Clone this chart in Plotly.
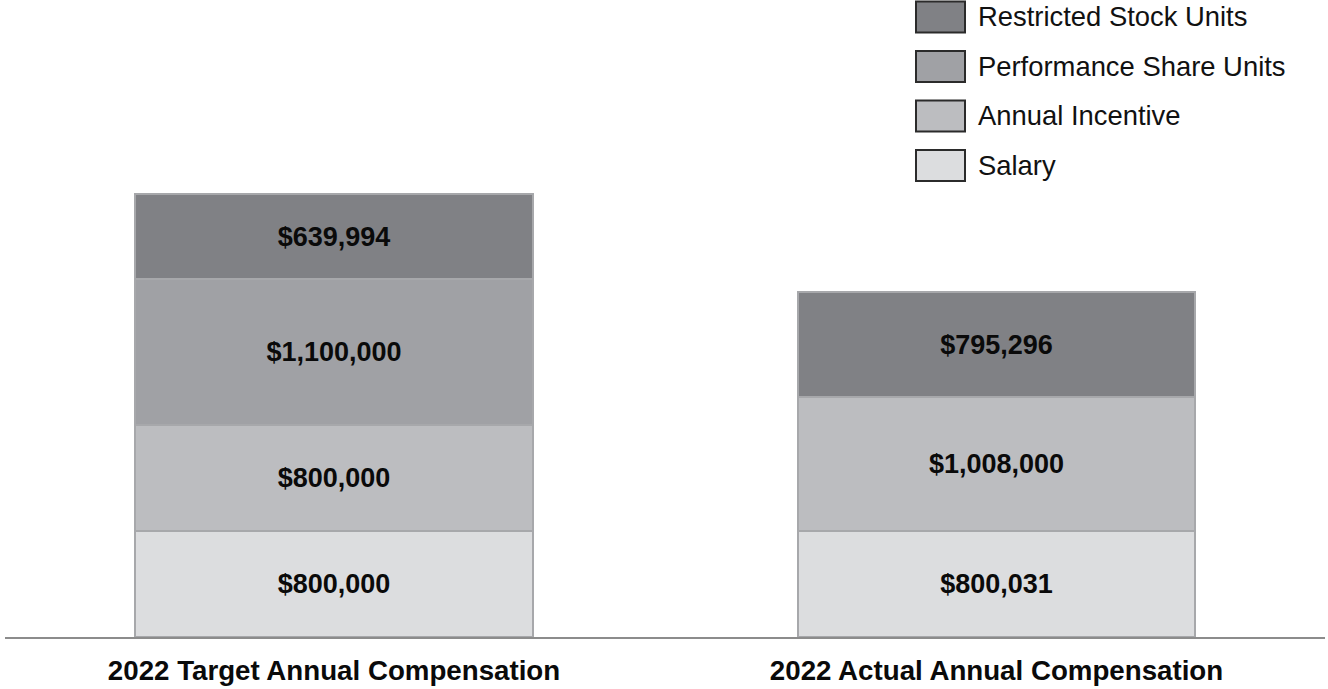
import plotly.graph_objects as go

categories = ["2022 Target Annual Compensation", "2022 Actual Annual Compensation"]
series_names = ["Salary", "Annual Incentive", "Performance Share Units", "Restricted Stock Units"]
salary = [800000, 800031]
annual_incentive = [800000, 1008000]
psu = [1100000, None]
rsu = [639994, 795296]
colors = ["#dcdddf", "#bcbdc0", "#a0a1a5", "#808185"]

W, H = 1328, 689
ML, MR, MT, MB = 5, 3, 0, 52
PW, PH = W - ML - MR, H - MT - MB

def px(x):
    return (x - ML) / PW

def py(y):
    return (H - MB - y) / PH

fig = go.Figure()
for name, vals, col in zip(series_names, [salary, annual_incentive, psu, rsu], colors):
    fig.add_trace(go.Bar(
        x=categories, y=vals, name=name,
        marker=dict(color=col, line=dict(color="#a7a8ab", width=2)),
        text=["" if v is None else "${:,.0f}".format(v) for v in vals],
        textposition="inside", insidetextanchor="middle", textangle=0,
        constraintext="none",
        textfont=dict(family="Liberation Sans, Arial", size=27, color="#0a0a0a", weight="bold"),
        width=0.6, showlegend=False, hoverinfo="skip",
    ))

shapes, annotations = [], []
legend_items = list(zip(series_names, colors))[::-1]
for i, (name, col) in enumerate(legend_items):
    cy = 17 + i * 49.5
    shapes.append(dict(type="rect", xref="paper", yref="paper",
                       x0=px(916), x1=px(965), y0=py(cy - 15.5), y1=py(cy + 15.5),
                       fillcolor=col, line=dict(color="#2b2b2b", width=2)))
    annotations.append(dict(xref="paper", yref="paper", x=px(976), y=py(cy),
                            xanchor="left", yanchor="middle", showarrow=False, text=name,
                            font=dict(family="Liberation Sans, Arial", size=27.4, color="#111111")))

fig.update_layout(
    barmode="stack", width=W, height=H,
    margin=dict(l=ML, r=MR, t=MT, b=MB, autoexpand=False),
    paper_bgcolor="white", plot_bgcolor="white",
    shapes=shapes, annotations=annotations,
    xaxis=dict(type="category", range=[-0.4966, 1.4958], showgrid=False, automargin=False,
               showline=True, linecolor="#8c8c8c", linewidth=2, ticks="",
               ticklabelstandoff=8,
               tickfont=dict(family="Liberation Sans, Arial", size=27.7, color="#0a0a0a", weight="bold")),
    yaxis=dict(range=[0, 4807547], visible=False, showgrid=False, zeroline=False, automargin=False),
)
fig.write_html("out.html", config={"displayModeBar": False},
               post_script="document.body.style.margin='0';document.body.style.overflow='hidden';")
